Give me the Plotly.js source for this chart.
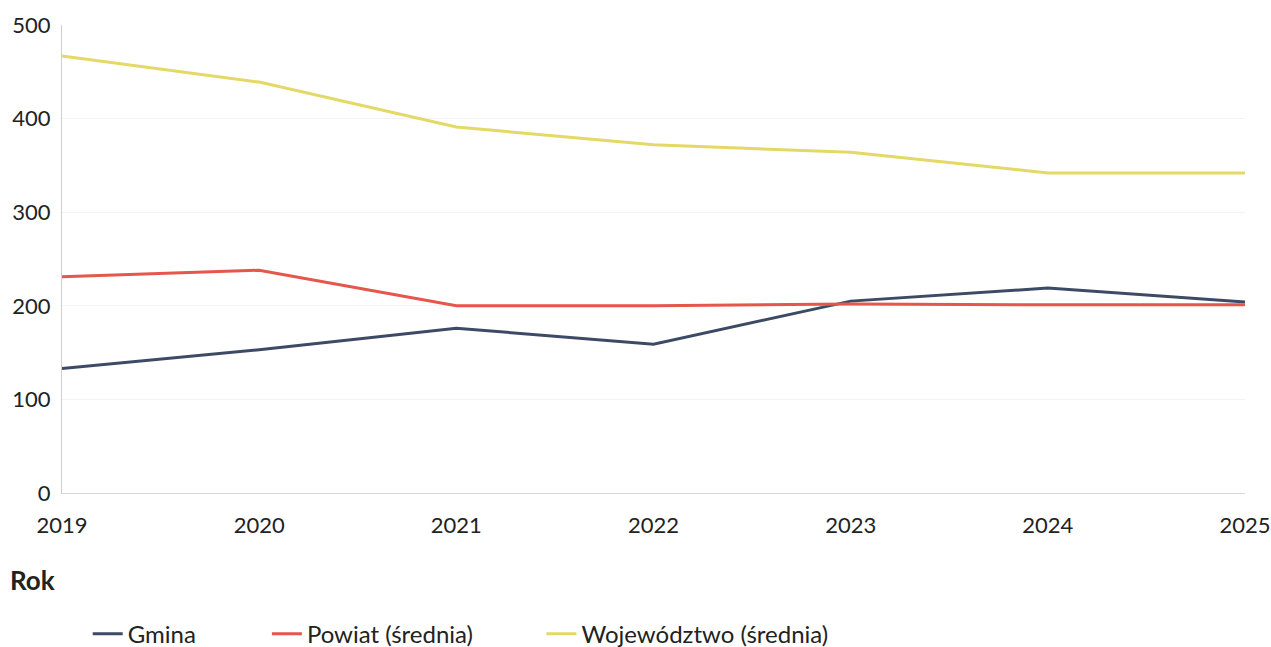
<!DOCTYPE html>
<html><head><meta charset="utf-8">
<script src="https://cdn.plot.ly/plotly-3.0.1.min.js"></script>
<style>html,body{margin:0;padding:0;background:#fff;}#chart{width:1271px;height:647px;}</style>
</head><body><div id="chart"></div>
<script>
const years = [2019, 2020, 2021, 2022, 2023, 2024, 2025];
const gmina = [133, 153, 176, 159, 205, 219, 204];
const powiat = [231, 238, 200, 200, 202, 201, 201];
const wojewodztwo = [467, 439, 391, 372, 364, 342, 342];
const seriesNames = ['Gmina', 'Powiat (średnia)', 'Województwo (średnia)'];
const yTicks = [0, 100, 200, 300, 400, 500];

const font = 'Lato, "Open Sans", sans-serif';
const traces = [
  {x: years, y: gmina, name: seriesNames[0], mode: 'lines', line: {color: '#3d4a66', width: 3}, legend: 'legend'},
  {x: years, y: powiat, name: seriesNames[1], mode: 'lines', line: {color: '#e5564c', width: 3}, legend: 'legend2'},
  {x: years, y: wojewodztwo, name: seriesNames[2], mode: 'lines', line: {color: '#e4d966', width: 3}, legend: 'legend3'}
];
const legBase = {orientation: 'h', xref: 'container', yref: 'container', yanchor: 'middle', xanchor: 'left', y: 0.02,
  font: {family: font, size: 24, color: '#222'}, bgcolor: 'rgba(0,0,0,0)', itemwidth: 30};
const layout = {
  width: 1271, height: 647,
  margin: {l: 62, r: 26, t: 25, b: 154, autoexpand: false},
  paper_bgcolor: '#fff', plot_bgcolor: '#fff',
  font: {family: font, size: 18, color: '#222'},
  xaxis: {range: [2019, 2025], tickvals: years, ticktext: years.map(String), showgrid: false, zeroline: false,
    showline: true, linecolor: '#d8d8d8', linewidth: 1, ticks: 'outside', ticklen: 13, tickcolor: 'rgba(0,0,0,0)',
    tickfont: {family: font, size: 22, color: '#222'}, fixedrange: true},
  yaxis: {range: [0, 500], tickvals: yTicks, showgrid: true, gridcolor: '#f3f3f3', zeroline: false,
    showline: true, linecolor: '#cfcfcf', linewidth: 1, ticks: 'outside', ticklen: 6, tickcolor: 'rgba(0,0,0,0)',
    tickfont: {family: font, size: 22, color: '#222'}, fixedrange: true},
  showlegend: true,
  legend: Object.assign({}, legBase, {x: 0.069}),
  legend2: Object.assign({}, legBase, {x: 0.210}),
  legend3: Object.assign({}, legBase, {x: 0.426}),
  annotations: [{text: '<b>Rok</b>', xref: 'paper', yref: 'paper', x: -0.046, y: -0.186, xanchor: 'left', yanchor: 'middle', showarrow: false, font: {family: font, size: 26, color: '#222'}}]
};
Plotly.newPlot('chart', traces, layout, {displayModeBar: false, staticPlot: true});
</script></body></html>
